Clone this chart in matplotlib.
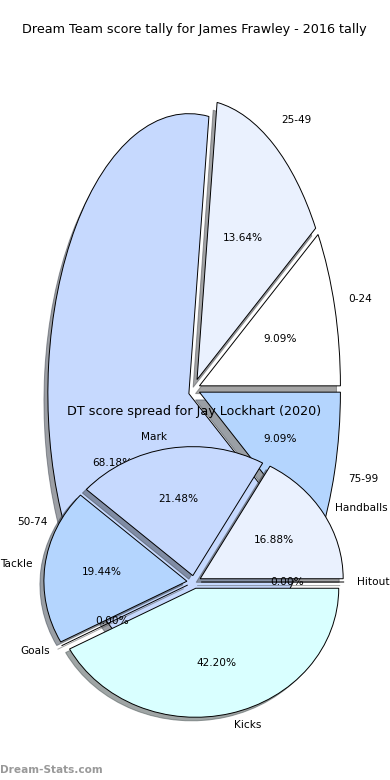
import matplotlib
matplotlib.use("Agg")
import matplotlib.pyplot as plt

# Pie 1 data
labels1 = ["0-24", "25-49", "50-74", "75-99"]
values1 = [9.09, 13.64, 68.18, 9.09]
title1 = "Dream Team score tally for James Frawley - 2016 tally"

# Pie 2 data
labels2 = ["Hitout", "Handballs", "Mark", "Tackle", "Goals", "Kicks"]
values2 = [0.00, 16.88, 21.48, 19.44, 0.00, 42.20]
title2 = "DT score spread for Jay Lockhart (2020)"

colors = ["#ffffff", "#eaf1fe", "#c6d9fe", "#b4d5fe", "#ffffff", "#d9ffff"]

W, H = 390, 780
fig = plt.figure(figsize=(3.9, 7.8), dpi=100)

def axes_for(cx, cy, rx, ry):
    w = 2.5 * rx
    h = 2.5 * ry
    left = (cx - w / 2) / W
    bottom = (H - (cy + h / 2)) / H
    return fig.add_axes([left, bottom, w / W, h / H])

fs = 7.6

ax1 = axes_for(194, 389, 141, 280)
ax1.pie(values1, labels=labels1, colors=colors[:4], explode=[0.04] * 4,
        autopct="%1.2f%%", shadow=True, startangle=0,
        wedgeprops=dict(edgecolor="black", linewidth=0.7),
        textprops=dict(fontsize=fs))
ax1.set_aspect("auto")
ax1.set_title(title1, fontsize=9.2, pad=4)

ax2 = axes_for(194, 582, 143, 129)
ax2.pie(values2, labels=labels2, colors=colors, explode=[0.05] * 6,
        autopct="%1.2f%%", shadow=True, startangle=0, labeldistance=1.09,
        wedgeprops=dict(edgecolor="black", linewidth=0.7),
        textprops=dict(fontsize=fs))
ax2.set_aspect("auto")
ax2.set_title(title2, fontsize=9.2, pad=4)

fig.text(0.0, 0.006, "Dream-Stats.com", fontsize=7.6, color="#999999",
         fontweight="bold", ha="left", va="bottom")

fig.savefig("out.png", dpi=100)
